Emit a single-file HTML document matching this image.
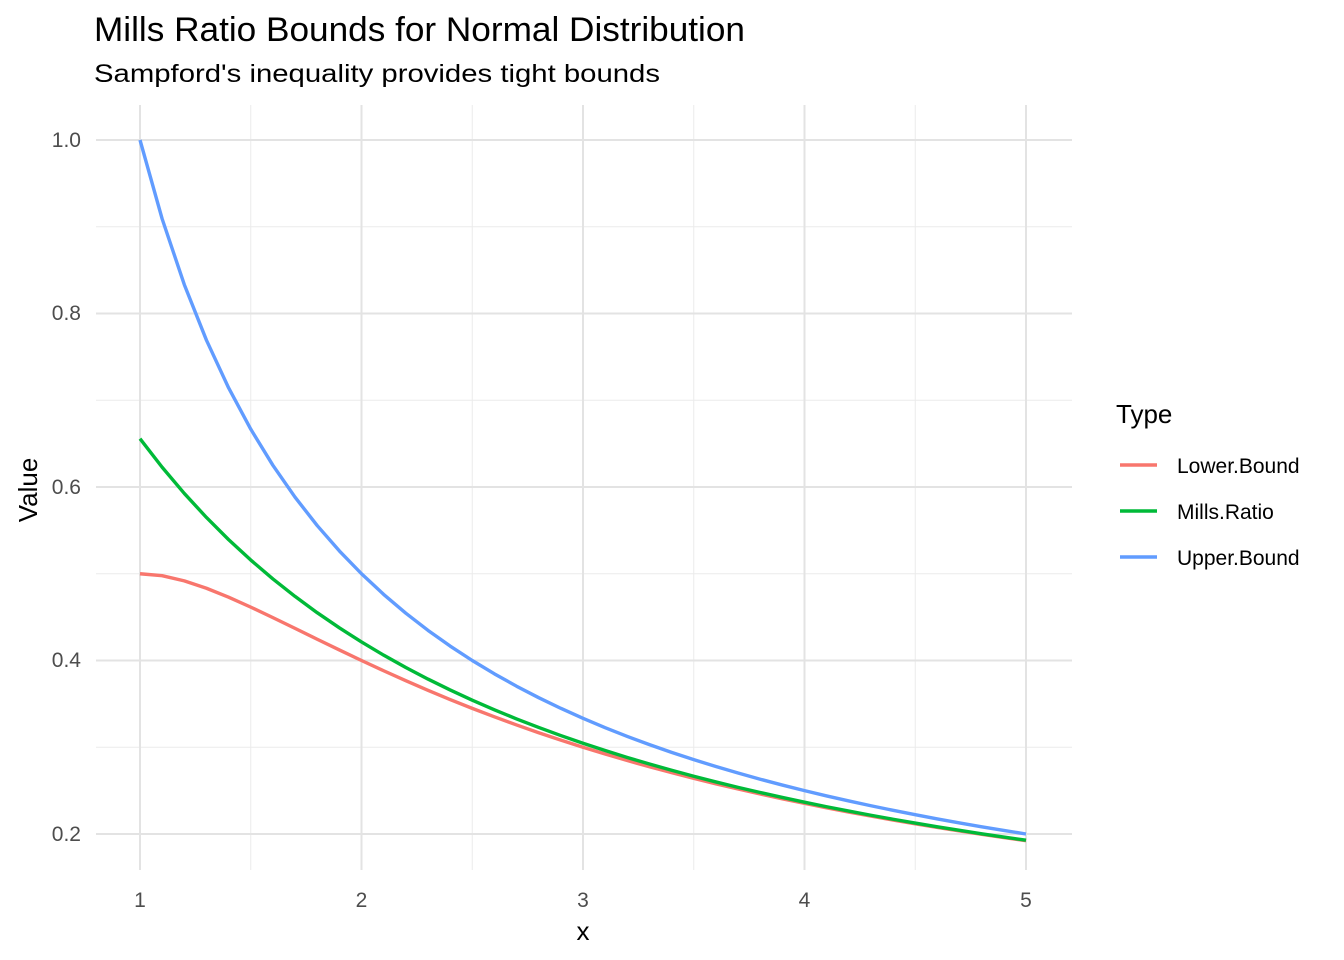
<!DOCTYPE html>
<html><head><meta charset="utf-8">
<style>
html,body{margin:0;padding:0;background:#fff;}
svg{display:block;font-family:"Liberation Sans",Arial,sans-serif;}
</style></head>
<body>
<svg id="c" width="1344" height="960" viewBox="0 0 1344 960" xmlns="http://www.w3.org/2000/svg">
<rect width="1344" height="960" fill="#fff"/>
<g id="grid"></g>
<g id="series" fill="none" stroke-width="3.4" stroke-linejoin="round" stroke-linecap="butt"></g>
<text x="94" y="41" font-size="34" fill="#000" textLength="651" lengthAdjust="spacingAndGlyphs">Mills Ratio Bounds for Normal Distribution</text>
<text x="94" y="82" font-size="25" fill="#000" textLength="566" lengthAdjust="spacingAndGlyphs">Sampford's inequality provides tight bounds</text>
<g font-size="21" fill="#4d4d4d" text-anchor="end">
<text x="81" y="147">1.0</text>
<text x="81" y="320">0.8</text>
<text x="81" y="494">0.6</text>
<text x="81" y="667">0.4</text>
<text x="81" y="841">0.2</text>
</g>
<g font-size="21" fill="#4d4d4d" text-anchor="middle">
<text x="140" y="907">1</text>
<text x="361.5" y="907">2</text>
<text x="583" y="907">3</text>
<text x="804.5" y="907">4</text>
<text x="1026" y="907">5</text>
</g>
<text x="583" y="940" font-size="26" text-anchor="middle">x</text>
<text transform="translate(37,490) rotate(-90)" font-size="26" text-anchor="middle">Value</text>
<text x="1116" y="423" font-size="26">Type</text>
<line x1="1120" x2="1157" y1="465" y2="465" stroke="#F8766D" stroke-width="3.4"/>
<line x1="1120" x2="1157" y1="511" y2="511" stroke="#00BA38" stroke-width="3.4"/>
<line x1="1120" x2="1157" y1="557" y2="557" stroke="#619CFF" stroke-width="3.4"/>
<g font-size="21" fill="#000">
<text x="1177" y="473">Lower.Bound</text>
<text x="1177" y="519">Mills.Ratio</text>
<text x="1177" y="565">Upper.Bound</text>
</g>
</svg>
<script>
(function(){
var NS="http://www.w3.org/2000/svg";
function X(v){return 140+(v-1)*221.5;}
function Y(v){return 834-(v-0.2)*867.5;}
var g=document.getElementById("grid");
function ln(x1,y1,x2,y2,w,c){var l=document.createElementNS(NS,"line");l.setAttribute("x1",x1);l.setAttribute("y1",y1);l.setAttribute("x2",x2);l.setAttribute("y2",y2);l.setAttribute("stroke",c);l.setAttribute("stroke-width",w);g.appendChild(l);}
var L=96,R=1072,T=105,B=870;
[0.3,0.5,0.7,0.9].forEach(function(v){ln(L,Y(v),R,Y(v),1,"#ebebeb");});
[1.5,2.5,3.5,4.5].forEach(function(v){ln(X(v),T,X(v),B,1,"#ebebeb");});
[0.2,0.4,0.6,0.8,1.0].forEach(function(v){ln(L,Y(v),R,Y(v),2,"#e3e3e3");});
[1,2,3,4,5].forEach(function(v){ln(X(v),T,X(v),B,2,"#e3e3e3");});
function mills(x){var n=4000,h=20/n,s=0;for(var i=0;i<=n;i++){var t=i*h,f=Math.exp(-x*t-t*t/2);s+=f*((i==0||i==n)?1:(i%2?4:2));}return s*h/3;}
var s=document.getElementById("series");
function path(fn,col){var d="";for(var i=0;i<=40;i++){var x=1+i*0.1;d+=(i?"L":"M")+X(x).toFixed(2)+","+Y(fn(x)).toFixed(2);}var p=document.createElementNS(NS,"path");p.setAttribute("d",d);p.setAttribute("stroke",col);s.appendChild(p);}
path(function(x){return x/(x*x+1);},"#F8766D");
path(mills,"#00BA38");
path(function(x){return 1/x;},"#619CFF");
})();
</script>
</body></html>
